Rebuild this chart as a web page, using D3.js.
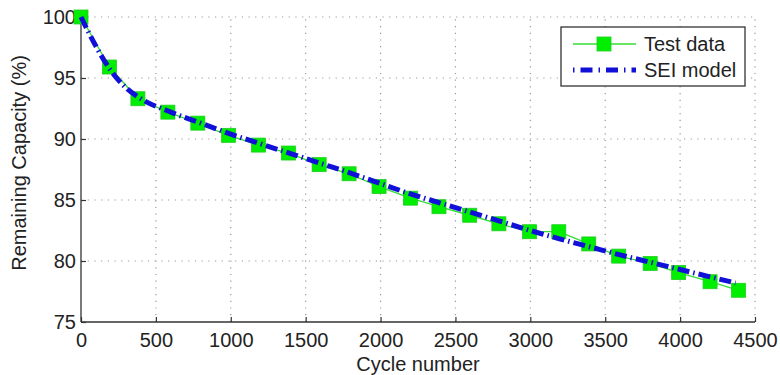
<!DOCTYPE html>
<html>
<head>
<meta charset="utf-8">
<script src="https://cdn.jsdelivr.net/npm/d3@7"></script>
<style>
  body { margin: 0; background: #fff; }
  text { font-family: "Liberation Sans", Arial, sans-serif; fill: #222; }
</style>
</head>
<body>
<svg id="chart" width="780" height="375"></svg>
<script>
// test data (cycle, capacity %)
var testCycles = [0, 190, 380, 580, 780, 985, 1185, 1385, 1590, 1790, 1990, 2200, 2390, 2595, 2790, 2995, 3190, 3390, 3590, 3800, 3990, 4200, 4390];
var testCap = [100, 95.9, 93.3, 92.2, 91.3, 90.3, 89.5, 88.85, 87.9, 87.15, 86.1, 85.15, 84.45, 83.75, 83.05, 82.4, 82.4, 81.4, 80.4, 79.8, 79.05, 78.3, 77.6];

// SEI model curve
var modelCycles = [0, 100, 200, 300, 400, 600, 800, 1000, 1200, 1400, 1600, 1800, 2000, 2200, 2400, 2600, 2800, 3000, 3200, 3400, 3600, 3800, 4000, 4200, 4370];
var modelCap = [100, 97.6, 95.6, 94.2, 93.3, 92.2, 91.3, 90.4, 89.6, 88.8, 88.0, 87.2, 86.35, 85.5, 84.75, 84.0, 83.25, 82.5, 81.8, 81.15, 80.5, 79.9, 79.3, 78.7, 78.2];

var xTicks = [0, 500, 1000, 1500, 2000, 2500, 3000, 3500, 4000, 4500];
var yTicks = [75, 80, 85, 90, 95, 100];

var svg = d3.select("#chart");
var mLeft = 81, mRight = 755, mTop = 17, mBottom = 322;

var x = d3.scaleLinear().domain([0, 4500]).range([mLeft, mRight]);
var y = d3.scaleLinear().domain([75, 100]).range([mBottom, mTop]);

// dotted grid
var grid = svg.append("g").attr("stroke", "#999").attr("stroke-width", 1.2)
    .attr("stroke-dasharray", "1.2,5.5");
grid.selectAll(".gx").data(xTicks.slice(1)).enter().append("line")
    .attr("x1", function (d) { return x(d); }).attr("x2", function (d) { return x(d); })
    .attr("y1", mBottom).attr("y2", mTop);
grid.selectAll(".gy").data(yTicks.slice(1)).enter().append("line")
    .attr("y1", function (d) { return y(d); }).attr("y2", function (d) { return y(d); })
    .attr("x1", mLeft).attr("x2", mRight);

// axes
var xAxis = svg.append("g").attr("transform", "translate(0," + mBottom + ")")
    .call(d3.axisBottom(x).tickValues(xTicks).tickSize(-5).tickPadding(11).tickFormat(d3.format("d")));
var yAxis = svg.append("g").attr("transform", "translate(" + mLeft + ",0)")
    .call(d3.axisLeft(y).tickValues(yTicks).tickSize(-5).tickPadding(5));
[xAxis, yAxis].forEach(function (a) {
    a.select(".domain").attr("stroke", "#333").attr("stroke-width", 1.3);
    a.selectAll(".tick line").attr("stroke", "#333").attr("stroke-width", 1.2);
    a.selectAll("text").style("font-size", "20px").attr("fill", "#222");
});
xAxis.select(".domain").attr("d", "M" + mLeft + ",0H" + mRight);
yAxis.select(".domain").attr("d", "M0," + mBottom + "V" + mTop);

var line = d3.line().x(function (d) { return x(d[0]); }).y(function (d) { return y(d[1]); });
var testPts = d3.zip(testCycles, testCap);
var modelPts = d3.zip(modelCycles, modelCap);

// test data line + markers
svg.append("path").datum(testPts).attr("d", line)
    .attr("fill", "none").attr("stroke", "#33dd33").attr("stroke-width", 1.3);

svg.append("g").selectAll("rect").data(testPts).enter().append("rect")
    .attr("x", function (d) { return x(d[0]) - 7; })
    .attr("y", function (d) { return y(d[1]) - 7; })
    .attr("width", 14).attr("height", 14)
    .attr("fill", "#00ee00").attr("stroke", "#22cc22").attr("stroke-width", 0.8);

// SEI model
var curve = d3.line().curve(d3.curveMonotoneX)
    .x(function (d) { return x(d[0]); }).y(function (d) { return y(d[1]); });
svg.append("path").datum(modelPts).attr("d", curve)
    .attr("fill", "none").attr("stroke", "#1010d8").attr("stroke-width", 5)
    .attr("stroke-dasharray", "12,4,1.5,4");

// legend
var lg = svg.append("g");
lg.append("rect").attr("x", 561).attr("y", 27).attr("width", 184).attr("height", 59)
    .attr("fill", "#fff").attr("stroke", "#333").attr("stroke-width", 1.3);
lg.append("line").attr("x1", 573).attr("x2", 636).attr("y1", 44).attr("y2", 44)
    .attr("stroke", "#33dd33").attr("stroke-width", 1.3);
lg.append("rect").attr("x", 597).attr("y", 37).attr("width", 14).attr("height", 14)
    .attr("fill", "#00ee00").attr("stroke", "#22cc22").attr("stroke-width", 0.8);
lg.append("line").attr("x1", 573).attr("x2", 636).attr("y1", 70).attr("y2", 70)
    .attr("stroke", "#1010d8").attr("stroke-width", 5).attr("stroke-dasharray", "1.5,6,12,6");
lg.append("text").attr("x", 644).attr("y", 51).style("font-size", "20px").text("Test data");
lg.append("text").attr("x", 644).attr("y", 77).style("font-size", "20px").text("SEI model");

// axis labels
svg.append("text").attr("x", (mLeft + mRight) / 2).attr("y", 371).attr("text-anchor", "middle")
    .style("font-size", "20px").text("Cycle number");
svg.append("text").attr("transform", "translate(26,163) rotate(-90)")
    .attr("text-anchor", "middle").style("font-size", "20px").text("Remaining Capacity (%)");
</script>
</body>
</html>
